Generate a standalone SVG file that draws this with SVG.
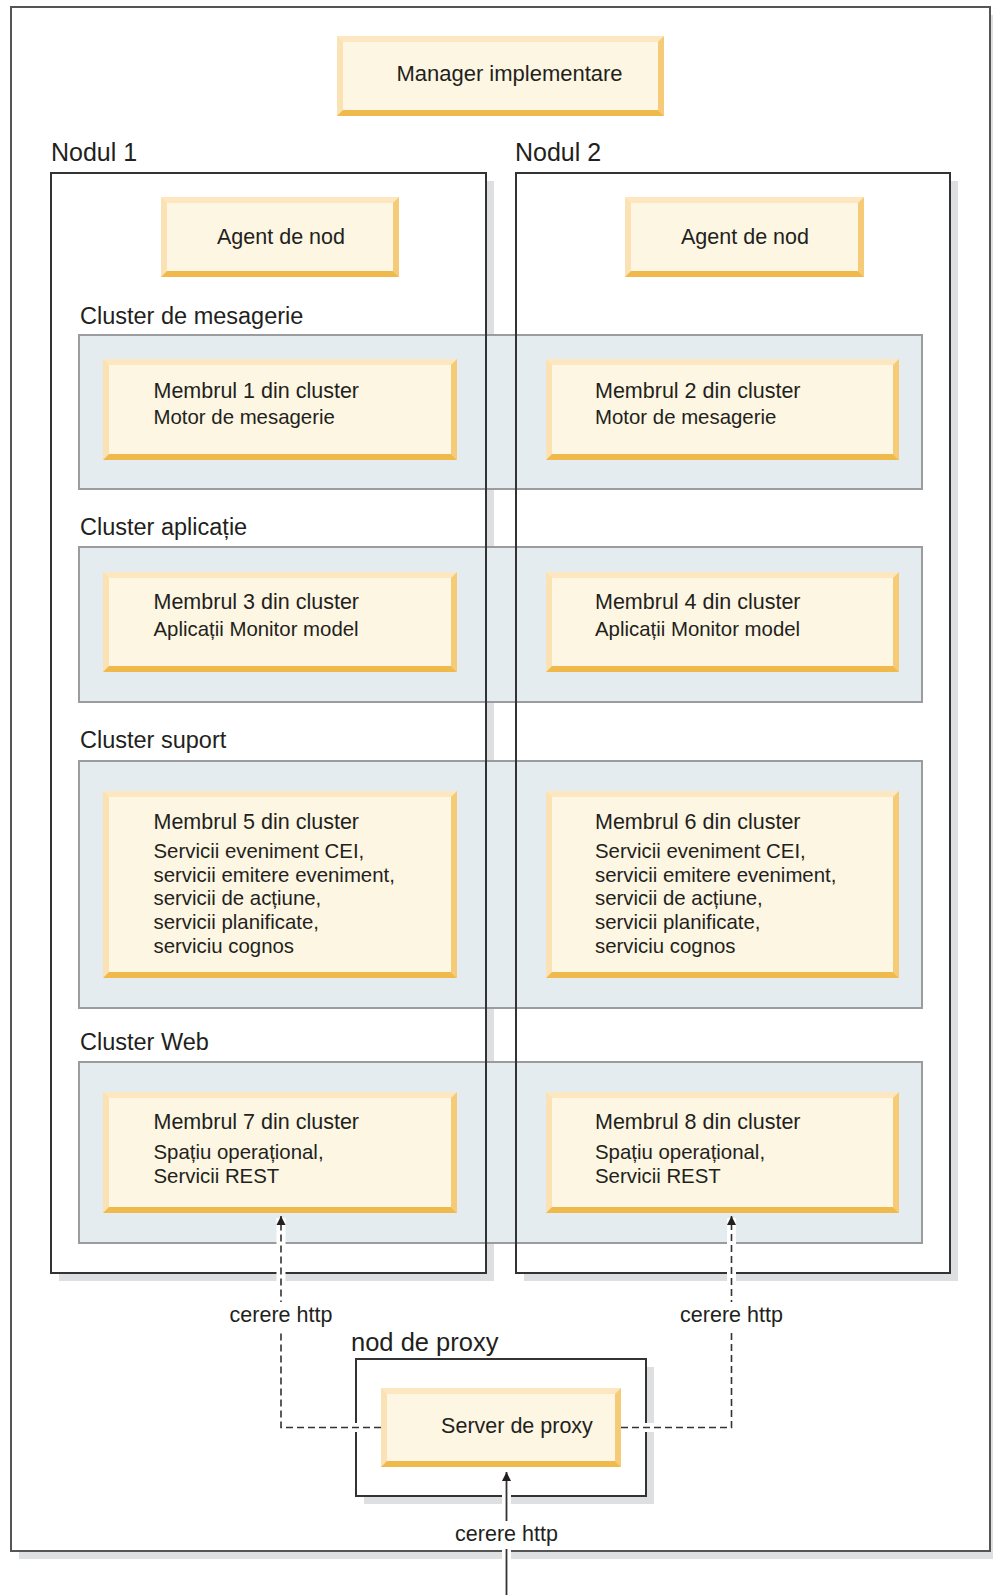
<svg xmlns="http://www.w3.org/2000/svg" width="993" height="1595" viewBox="0 0 993 1595">
<style>
text{font-family:"Liberation Sans",Arial,Helvetica,sans-serif;fill:#231f20}
.bt{font-size:21.5px}
.dt{font-size:20.4px}
.mg{font-size:22px}
.cl{font-size:23.5px}
.nl{font-size:25px}
.pl{font-size:25.5px}
.mid{text-anchor:middle}
.top{fill:#fde7c1}
.lft{fill:#fbe2b4}
.rgt{fill:#f6cb77}
.bot{fill:#f0b94b}
.face{fill:#fdf6e2}
.shadow{fill:#dedfe0}
.nodefill{fill:#ffffff}
.frame{fill:none;stroke:#333333;stroke-width:2}
.band{fill:#e4ecef;stroke:#9a9ca0;stroke-width:2}
.halo{fill:none;stroke:#ffffff;stroke-width:9}
.dash{fill:none;stroke:#333333;stroke-width:1.6;stroke-dasharray:7 4}
.solid{fill:none;stroke:#333333;stroke-width:1.8}
.lblbg{fill:#ffffff}
</style>
<defs>
<marker id="arr" markerUnits="userSpaceOnUse" markerWidth="10" markerHeight="10" viewBox="0 0 10 10" refX="9" refY="5" orient="auto">
<path d="M0,0.5 L9,5 L0,9.5 z" fill="#231f20"/>
</marker>
</defs>

<!-- outer frame -->
<g id="outer">
<rect x="19" y="15" width="979" height="1544" class="shadow"/>
<rect x="11" y="7" width="979" height="1544" fill="#ffffff" stroke="#555555" stroke-width="2"/>
</g>

<!-- manager -->
<g id="manager">
<rect x="337" y="36" width="327" height="80" class="top"/>
<polygon points="337,36 343,42 343,110 337,116" class="lft"/>
<polygon points="664,36 658,42 658,110 664,116" class="rgt"/>
<polygon points="337,116 343,110 658,110 664,116" class="bot"/>
<rect x="343" y="42" width="315" height="68" class="face"/>
<text x="509.5" y="81" class="mg mid">Manager implementare</text>
</g>

<!-- node backgrounds -->
<g id="node1-bg">
<rect x="59" y="181" width="435" height="1100" class="shadow"/>
<rect x="51" y="173" width="435" height="1100" class="nodefill"/>
<text x="51" y="161" class="nl">Nodul 1</text>
</g>
<g id="node2-bg">
<rect x="524" y="181" width="434" height="1100" class="shadow"/>
<rect x="516" y="173" width="434" height="1100" class="nodefill"/>
<text x="515" y="161" class="nl">Nodul 2</text>
</g>

<!-- clusters -->
<g id="cluster-mesagerie">
<text x="80" y="323.5" class="cl">Cluster de mesagerie</text>
<rect x="79" y="335" width="843" height="154" class="band"/>
</g>
<g id="cluster-aplicatie">
<text x="80" y="535" class="cl">Cluster aplicație</text>
<rect x="79" y="547" width="843" height="155" class="band"/>
</g>
<g id="cluster-suport">
<text x="80" y="748" class="cl">Cluster suport</text>
<rect x="79" y="761" width="843" height="247" class="band"/>
</g>
<g id="cluster-web">
<text x="80" y="1050" class="cl">Cluster Web</text>
<rect x="79" y="1062" width="843" height="181" class="band"/>
</g>

<!-- node borders -->
<g id="node1">
<rect x="51" y="173" width="435" height="1100" class="frame"/>
</g>
<g id="node2">
<rect x="516" y="173" width="434" height="1100" class="frame"/>
</g>

<!-- agents -->
<g id="agent1">
<rect x="161" y="197" width="238" height="80" class="top"/>
<polygon points="161,197 167,203 167,271 161,277" class="lft"/>
<polygon points="399,197 393,203 393,271 399,277" class="rgt"/>
<polygon points="161,277 167,271 393,271 399,277" class="bot"/>
<rect x="167" y="203" width="226" height="68" class="face"/>
<text x="281" y="244" class="bt mid">Agent de nod</text>
</g>
<g id="agent2">
<rect x="625" y="197" width="239" height="80" class="top"/>
<polygon points="625,197 631,203 631,271 625,277" class="lft"/>
<polygon points="864,197 858,203 858,271 864,277" class="rgt"/>
<polygon points="625,277 631,271 858,271 864,277" class="bot"/>
<rect x="631" y="203" width="227" height="68" class="face"/>
<text x="745" y="244" class="bt mid">Agent de nod</text>
</g>

<!-- members -->
<g id="member1">
<rect x="103" y="359" width="354" height="101" class="top"/>
<polygon points="103,359 109,365 109,454 103,460" class="lft"/>
<polygon points="457,359 451,365 451,454 457,460" class="rgt"/>
<polygon points="103,460 109,454 451,454 457,460" class="bot"/>
<rect x="109" y="365" width="342" height="89" class="face"/>
<text x="153.5" y="397.5" class="bt">Membrul 1 din cluster</text>
<text x="153.5" y="424" class="dt">Motor de mesagerie</text>
</g>
<g id="member2">
<rect x="546" y="359" width="353" height="101" class="top"/>
<polygon points="546,359 552,365 552,454 546,460" class="lft"/>
<polygon points="899,359 893,365 893,454 899,460" class="rgt"/>
<polygon points="546,460 552,454 893,454 899,460" class="bot"/>
<rect x="552" y="365" width="341" height="89" class="face"/>
<text x="595" y="397.5" class="bt">Membrul 2 din cluster</text>
<text x="595" y="424" class="dt">Motor de mesagerie</text>
</g>
<g id="member3">
<rect x="103" y="572" width="354" height="100" class="top"/>
<polygon points="103,572 109,578 109,666 103,672" class="lft"/>
<polygon points="457,572 451,578 451,666 457,672" class="rgt"/>
<polygon points="103,672 109,666 451,666 457,672" class="bot"/>
<rect x="109" y="578" width="342" height="88" class="face"/>
<text x="153.5" y="608.5" class="bt">Membrul 3 din cluster</text>
<text x="153.5" y="636" class="dt">Aplicații Monitor model</text>
</g>
<g id="member4">
<rect x="546" y="572" width="353" height="100" class="top"/>
<polygon points="546,572 552,578 552,666 546,672" class="lft"/>
<polygon points="899,572 893,578 893,666 899,672" class="rgt"/>
<polygon points="546,672 552,666 893,666 899,672" class="bot"/>
<rect x="552" y="578" width="341" height="88" class="face"/>
<text x="595" y="608.5" class="bt">Membrul 4 din cluster</text>
<text x="595" y="636" class="dt">Aplicații Monitor model</text>
</g>
<g id="member5">
<rect x="103" y="791" width="354" height="187" class="top"/>
<polygon points="103,791 109,797 109,972 103,978" class="lft"/>
<polygon points="457,791 451,797 451,972 457,978" class="rgt"/>
<polygon points="103,978 109,972 451,972 457,978" class="bot"/>
<rect x="109" y="797" width="342" height="175" class="face"/>
<text x="153.5" y="828.5" class="bt">Membrul 5 din cluster</text>
<text x="153.5" y="858" class="dt">Servicii eveniment CEI,</text>
<text x="153.5" y="881.5" class="dt">servicii emitere eveniment,</text>
<text x="153.5" y="905" class="dt">servicii de acțiune,</text>
<text x="153.5" y="928.5" class="dt">servicii planificate,</text>
<text x="153.5" y="952.5" class="dt">serviciu cognos</text>
</g>
<g id="member6">
<rect x="546" y="791" width="353" height="187" class="top"/>
<polygon points="546,791 552,797 552,972 546,978" class="lft"/>
<polygon points="899,791 893,797 893,972 899,978" class="rgt"/>
<polygon points="546,978 552,972 893,972 899,978" class="bot"/>
<rect x="552" y="797" width="341" height="175" class="face"/>
<text x="595" y="828.5" class="bt">Membrul 6 din cluster</text>
<text x="595" y="858" class="dt">Servicii eveniment CEI,</text>
<text x="595" y="881.5" class="dt">servicii emitere eveniment,</text>
<text x="595" y="905" class="dt">servicii de acțiune,</text>
<text x="595" y="928.5" class="dt">servicii planificate,</text>
<text x="595" y="952.5" class="dt">serviciu cognos</text>
</g>
<g id="member7">
<rect x="103" y="1092" width="354" height="121" class="top"/>
<polygon points="103,1092 109,1098 109,1207 103,1213" class="lft"/>
<polygon points="457,1092 451,1098 451,1207 457,1213" class="rgt"/>
<polygon points="103,1213 109,1207 451,1207 457,1213" class="bot"/>
<rect x="109" y="1098" width="342" height="109" class="face"/>
<text x="153.5" y="1129" class="bt">Membrul 7 din cluster</text>
<text x="153.5" y="1159" class="dt">Spațiu operațional,</text>
<text x="153.5" y="1182.5" class="dt">Servicii REST</text>
</g>
<g id="member8">
<rect x="546" y="1092" width="353" height="121" class="top"/>
<polygon points="546,1092 552,1098 552,1207 546,1213" class="lft"/>
<polygon points="899,1092 893,1098 893,1207 899,1213" class="rgt"/>
<polygon points="546,1213 552,1207 893,1207 899,1213" class="bot"/>
<rect x="552" y="1098" width="341" height="109" class="face"/>
<text x="595" y="1129" class="bt">Membrul 8 din cluster</text>
<text x="595" y="1159" class="dt">Spațiu operațional,</text>
<text x="595" y="1182.5" class="dt">Servicii REST</text>
</g>

<!-- proxy node -->
<g id="proxy-node">
<text x="351" y="1351" class="pl">nod de proxy</text>
<rect x="364" y="1367" width="290" height="137" class="shadow"/>
<rect x="356" y="1359" width="290" height="137" fill="#ffffff" stroke="#333333" stroke-width="2"/>
</g>

<!-- connectors -->
<g id="connectors">
<path d="M381,1427.5 H281 V1218" class="halo"/>
<path d="M621,1427.5 H731.5 V1218" class="halo"/>
<path d="M506.5,1595 V1476" class="halo"/>
<path d="M381,1427.5 H281 V1216" class="dash" marker-end="url(#arr)"/>
<path d="M621,1427.5 H731.5 V1216" class="dash" marker-end="url(#arr)"/>
<path d="M506.5,1595 V1472" class="solid" marker-end="url(#arr)"/>
<rect x="224" y="1302" width="114" height="28" class="lblbg"/>
<text x="281" y="1322" class="bt mid">cerere http</text>
<rect x="674.5" y="1302" width="114" height="28" class="lblbg"/>
<text x="731.5" y="1322" class="bt mid">cerere http</text>
<rect x="449.5" y="1521" width="114" height="28" class="lblbg"/>
<text x="506.5" y="1541" class="bt mid">cerere http</text>
</g>

<!-- proxy server -->
<g id="proxy-server">
<rect x="381" y="1388" width="240" height="79" class="top"/>
<polygon points="381,1388 387,1394 387,1461 381,1467" class="lft"/>
<polygon points="621,1388 615,1394 615,1461 621,1467" class="rgt"/>
<polygon points="381,1467 387,1461 615,1461 621,1467" class="bot"/>
<rect x="387" y="1394" width="228" height="67" class="face"/>
<text x="517" y="1433" class="bt mid">Server de proxy</text>
</g>
</svg>
